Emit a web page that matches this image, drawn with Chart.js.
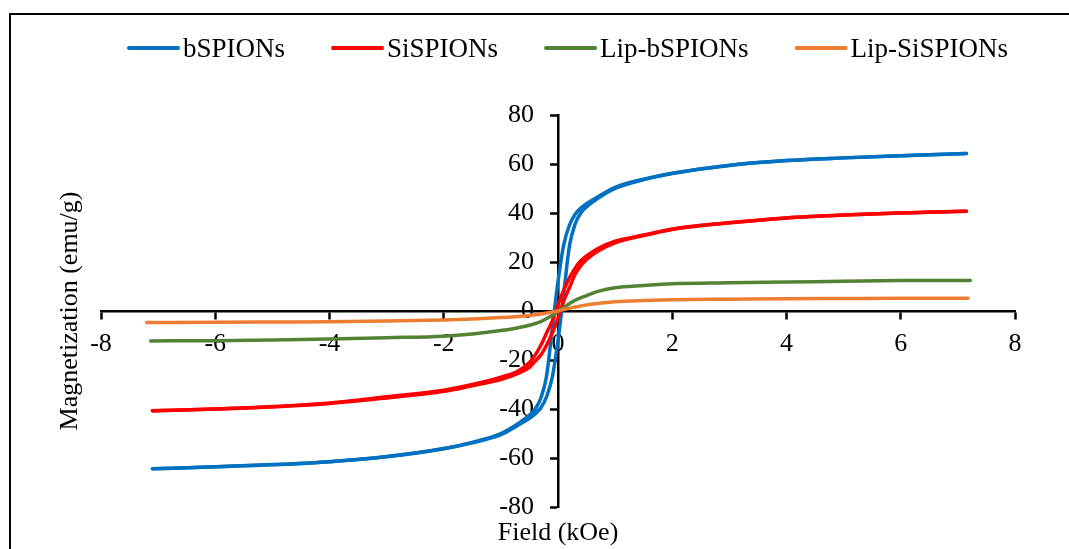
<!DOCTYPE html>
<html><head><meta charset="utf-8">
<script src="https://cdn.jsdelivr.net/npm/chart.js@4.4.1/dist/chart.umd.min.js"></script>
<style>html,body{margin:0;padding:0;background:#fff;overflow:hidden}#wrap{width:1069px;height:549px;position:relative}</style>
</head><body><div id="wrap"><canvas id="c" width="1069" height="549"></canvas></div>
<script>
// ---- data ----
const seriesNames = ['bSPIONs', 'SiSPIONs', 'Lip-bSPIONs', 'Lip-SiSPIONs'];
const seriesColors = ['#0070C0', '#FF0000', '#548235', '#ED7D31'];
const xTickValues = [-8, -6, -4, -2, 0, 2, 4, 6, 8];
const yTickValues = [-80, -60, -40, -20, 0, 20, 40, 60, 80];
const xTitle = 'Field (kOe)';
const yTitle = 'Magnetization (emu/g)';

// field values (kOe) for the two branches of the hysteresis loops
const loopField = [-7.1, -6, -5, -4, -3, -2, -1.5, -1, -0.7, -0.5, -0.4, -0.3, -0.2, -0.1, 0, 0.1, 0.2, 0.3, 0.4, 0.5, 0.7, 1, 1.5, 2, 3, 4, 5, 6, 7.15];
// bSPIONs (descending and ascending branch)
const bSPIONsDown = [-64.4, -63.6, -62.7, -61.5, -59.4, -56.1, -53.6, -50, -46, -42.5, -40, -35.5, -26.5, -7, 12, 27, 35, 39.5, 42, 43.8, 46.6, 50.5, 53.8, 56.2, 59.5, 61.4, 62.5, 63.4, 64.3];
const bSPIONsUp   = [-64.4, -63.6, -62.8, -61.5, -59.5, -56.2, -53.8, -50.5, -46.6, -43.8, -42, -39.5, -35, -27, -12, 7, 26.5, 35.5, 40, 42.5, 46, 50, 53.6, 56.1, 59.4, 61.4, 62.5, 63.4, 64.3];
// SiSPIONs (descending and ascending branch)
const SiSPIONsDown = [-40.7, -40, -39, -37.5, -35, -32.3, -30, -27, -24.5, -21, -18, -14, -9, -4, 2.5, 8.5, 13.5, 17.5, 20.5, 22.5, 25.5, 28.5, 31, 33.5, 36, 38, 39.2, 40, 40.7];
const SiSPIONsUp   = [-40.7, -40, -39.2, -37.8, -35.5, -32.8, -30.5, -28, -25.5, -23, -20.5, -18, -14, -9, -3, 4, 9.5, 15, 18.5, 21, 24.5, 27.8, 30.8, 33.3, 36, 38, 39.2, 40, 40.7];
// Lip-bSPIONs
const lipBField = [-7.13, -6, -5, -4, -3, -2, -1.5, -1, -0.7, -0.5, -0.3, -0.2, -0.1, 0, 0.1, 0.2, 0.3, 0.5, 0.7, 1, 1.5, 2, 3, 4, 5, 6, 7.22];
const lipBM     = [-12.2, -12.1, -11.8, -11.4, -10.9, -10.3, -9.4, -8.0, -6.8, -5.8, -4.3, -3.1, -1.7, -0.2, 1.5, 3.0, 4.4, 6.3, 8.0, 9.5, 10.4, 11.1, 11.5, 11.8, 12.1, 12.4, 12.5];
// Lip-SiSPIONs
const lipSiField = [-7.2, -6, -5, -4, -3, -2, -1.5, -1, -0.7, -0.5, -0.3, -0.2, -0.1, 0, 0.1, 0.2, 0.3, 0.5, 0.7, 1, 1.5, 2, 3, 4, 5, 6, 7.18];
const lipSiM     = [-4.7, -4.6, -4.5, -4.4, -4.1, -3.7, -3.3, -2.7, -2.2, -1.8, -1.2, -0.8, -0.4, 0.1, 0.6, 1.1, 1.6, 2.5, 3.1, 3.8, 4.3, 4.6, 4.8, 5.0, 5.1, 5.2, 5.2];

// ---- helpers ----
function pts(xs, ys) { return xs.map((x, i) => ({ x: x, y: ys[i] })); }
const FONT = "'Liberation Serif', 'Times New Roman', serif";
Chart.defaults.font.family = FONT;
Chart.defaults.color = '#000';

function ds(label, data, color, order, legend) {
  return { label: label, data: data, borderColor: color, backgroundColor: color, borderWidth: 3.5,
    pointRadius: 0, pointHoverRadius: 0, showLine: true, fill: false,
    cubicInterpolationMode: 'monotone', xAxisID: 'x', yAxisID: 'y', order: order, inLegend: legend, borderCapStyle: 'round' };
}

const datasets = [
  ds(seriesNames[0], pts(loopField, bSPIONsDown), seriesColors[0], 4, true),
  ds(seriesNames[0], pts(loopField, bSPIONsUp), seriesColors[0], 4, false),
  ds(seriesNames[1], pts(loopField, SiSPIONsDown), seriesColors[1], 3, true),
  ds(seriesNames[1], pts(loopField, SiSPIONsUp), seriesColors[1], 3, false),
  ds(seriesNames[2], pts(lipBField, lipBM), seriesColors[2], 2, true),
  ds(seriesNames[3], pts(lipSiField, lipSiM), seriesColors[3], 1, true)
];

const decor = {
  id: 'decor',
  beforeDraw(chart) {
    const ctx = chart.ctx;
    ctx.save();
    ctx.fillStyle = '#fff';
    ctx.fillRect(0, 0, chart.width, chart.height);
    ctx.strokeStyle = '#000';
    ctx.lineWidth = 2;
    ctx.strokeRect(10, 14, 1200, 700);
    ctx.restore();
  },
  afterDraw(chart) {
    // legend
    const ctx = chart.ctx;
    ctx.save();
    ctx.font = '27px ' + FONT;
    ctx.textBaseline = 'alphabetic';
    ctx.textAlign = 'left';
    let x = 127;
    const lineY = 48, textY = 57;
    chart.data.datasets.filter(d => d.inLegend).forEach(d => {
      ctx.strokeStyle = d.borderColor;
      ctx.lineWidth = 4;
      ctx.lineCap = 'round';
      ctx.beginPath(); ctx.moveTo(x + 2, lineY); ctx.lineTo(x + 51, lineY); ctx.stroke();
      ctx.fillStyle = '#000';
      ctx.fillText(d.label, x + 56, textY);
      x += 56 + ctx.measureText(d.label).width + 46;
    });
    ctx.restore();
  }
};

const tickFont = { family: FONT, size: 26 };
new Chart(document.getElementById('c'), {
  type: 'scatter',
  data: { datasets: datasets },
  options: {
    responsive: false, animation: false, devicePixelRatio: 1,
    layout: { padding: { left: 54.4, right: 54, top: 115, bottom: 0 } },
    plugins: { legend: { display: false }, tooltip: { enabled: false } },
    scales: {
      x: {
        type: 'linear', position: 'center', min: -8, max: 8,
        afterBuildTicks: s => { s.ticks = xTickValues.map(v => ({ value: v })); },
        ticks: { font: tickFont, color: '#000', padding: 11, maxRotation: 0 },
        grid: { drawOnChartArea: false, drawTicks: true, tickLength: 7, tickColor: '#000', tickWidth: 2.5 },
        border: { display: true, color: '#000', width: 2.5 }
      },
      y: {
        type: 'linear', position: 'center', min: -80, max: 80,
        afterBuildTicks: s => { s.ticks = yTickValues.map(v => ({ value: v })); },
        ticks: { font: tickFont, color: '#000', padding: 17 },
        grid: { drawOnChartArea: false, drawTicks: true, tickLength: 7, tickColor: '#000', tickWidth: 2.5 },
        border: { display: true, color: '#000', width: 2.5 }
      },
      xt: {
        type: 'linear', position: 'bottom', min: 0, max: 1,
        ticks: { display: false }, grid: { display: false }, border: { display: false },
        title: { display: true, text: xTitle, font: { family: FONT, size: 26 }, color: '#000', padding: 0 },
        afterFit: s => { s.height = 42; }
      },
      yt: {
        type: 'linear', position: 'left', min: 0, max: 1,
        ticks: { display: false }, grid: { display: false }, border: { display: false },
        title: { display: true, text: yTitle, font: { family: FONT, size: 26 }, color: '#000', padding: 0 },
        afterFit: s => { s.width = 46.6; }
      }
    }
  },
  plugins: [decor]
});
</script></body></html>
